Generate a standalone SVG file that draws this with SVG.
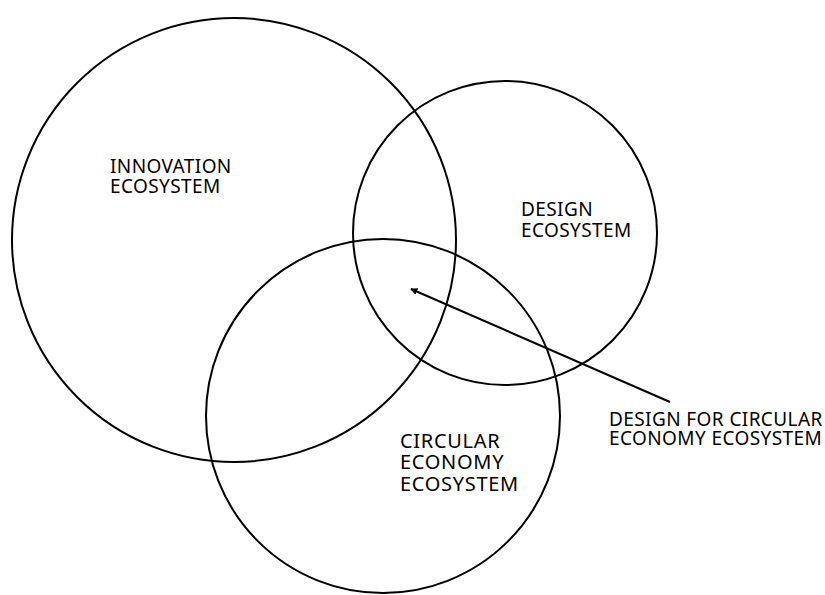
<svg xmlns="http://www.w3.org/2000/svg" width="825" height="595" viewBox="0 0 825 595">
  <style>
    .ring { fill: none; stroke: #000; stroke-width: 2; }
    .lbl { font-family: "Noto Sans", "Open Sans", sans-serif; font-size: 19px; letter-spacing: 0.4px; fill: #000; }
    .lbl-lg { font-size: 20px; letter-spacing: 0.7px; }
    .conn { stroke: #000; stroke-width: 2; fill: none; }
  </style>
  <defs>
    <marker id="arrowhead" viewBox="0 0 10 10" refX="9" refY="5" markerWidth="7" markerHeight="7" orient="auto-start-reverse" markerUnits="userSpaceOnUse">
      <path d="M0,0 L10,5 L0,10 z" fill="#000"/>
    </marker>
  </defs>
  <rect width="825" height="595" fill="#fff"/>

  <g id="innovation">
    <circle class="ring" cx="234" cy="240" r="222"/>
    <text class="lbl" x="110" y="173">INNOVATION</text>
    <text class="lbl" x="110" y="193">ECOSYSTEM</text>
  </g>

  <g id="design">
    <circle class="ring" cx="505" cy="233" r="152"/>
    <text class="lbl" x="521" y="216">DESIGN</text>
    <text class="lbl" x="521" y="237">ECOSYSTEM</text>
  </g>

  <g id="circular-economy">
    <circle class="ring" cx="383" cy="416" r="177"/>
    <text class="lbl lbl-lg" x="400" y="448">CIRCULAR</text>
    <text class="lbl lbl-lg" x="400" y="469">ECONOMY</text>
    <text class="lbl lbl-lg" x="400" y="491">ECOSYSTEM</text>
  </g>

  <g id="design-for-circular">
    <text class="lbl" x="609" y="426">DESIGN FOR CIRCULAR</text>
    <text class="lbl" x="609" y="445">ECONOMY ECOSYSTEM</text>
  </g>

  <g id="connectors">
    <line class="conn" x1="670" y1="402" x2="411" y2="289" marker-end="url(#arrowhead)"/>
  </g>
</svg>
